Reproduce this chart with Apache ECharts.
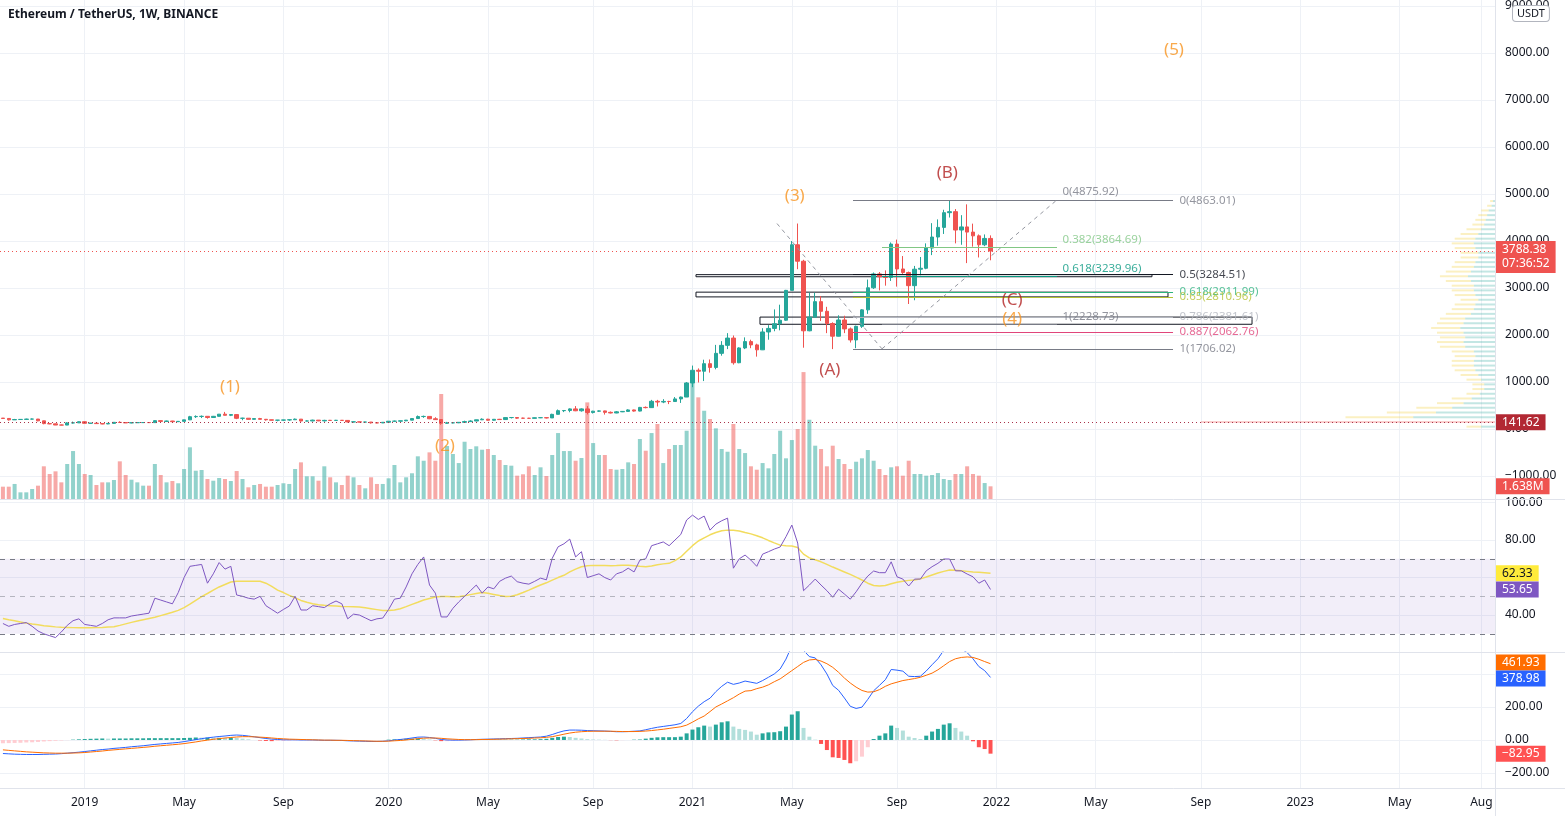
<!DOCTYPE html>
<html><head><meta charset="utf-8">
<script src="https://cdn.jsdelivr.net/npm/echarts@6/dist/echarts.min.js"></script>
<style>html,body{margin:0;padding:0;background:#fff}#c{width:1565px;height:816px}</style>
</head><body><div id="c"></div>
<script>
// ---------------- DATA (weekly, first bar = week of 2018-10-01) ----------------
// [open, close, low, high]
const ohlc = [
[232,225,214,234],[225,195,180,232],[195,202,194,215],[202,205,196,209],[205,211,194,220],[211,212,206,223],[212,174,165,214],[174,115,101,177],[115,110,102,128],[110,85,84,116],
[85,84,82,93],[84,130,83,145],[130,131,116,158],[131,155,130,161],[155,122,120,160],[122,124,117,129],[124,115,110,125],[115,108,102,118],[108,120,104,126],[120,142,117,145],
[142,138,130,165],[138,130,128,143],[130,135,123,140],[135,136,130,138],[136,138,132,142],[138,136,130,145],[136,178,135,185],[178,162,157,184],[162,170,160,178],[170,156,150,174],
[156,163,153,167],[163,195,159,197],[195,262,190,280],[262,267,236,290],[267,270,233,288],[270,245,220,272],[245,270,240,278],[270,316,265,318],[316,292,290,364],[292,307,275,317],
[307,228,210,317],[228,230,187,240],[230,206,201,232],[206,222,202,227],[222,207,205,237],[207,196,178,213],[196,187,183,198],[187,189,164,192],[189,193,170,196],[193,197,176,199],
[197,210,195,223],[210,170,156,212],[170,171,166,183],[171,189,164,198],[189,173,167,190],[173,184,158,196],[184,183,176,193],[183,185,181,194],[185,183,178,190],[183,151,140,185],
[151,152,139,157],[152,147,143,153],[147,148,140,152],[148,132,116,149],[132,130,124,134],[130,143,126,146],[143,166,135,170],[166,167,157,180],[167,175,154,176],[175,189,166,190],
[189,223,187,227],[223,265,220,288],[265,268,238,285],[268,218,210,273],[218,200,195,251],[200,123,90,203],[123,131,109,152],[131,133,120,140],[133,142,125,147],[142,158,140,177],
[158,170,150,187],[170,196,167,198],[196,209,190,227],[209,187,180,217],[187,207,178,208],[207,201,195,215],[201,243,197,245],[243,245,225,253],[245,231,215,249],[231,229,220,241],
[229,227,216,238],[227,240,223,246],[240,242,232,250],[242,236,225,245],[236,312,236,325],[312,390,310,415],[390,394,360,400],[394,428,356,440],[428,388,380,488],[388,428,370,440],
[428,352,310,488],[352,380,330,387],[380,385,363,395],[385,355,307,390],[355,341,332,373],[341,366,336,383],[366,375,360,383],[375,406,369,420],[406,382,370,413],[382,460,375,470],
[460,455,440,480],[455,590,450,620],[590,574,480,620],[574,587,550,635],[587,585,530,600],[585,640,580,680],[640,680,555,690],[680,980,680,1000],[980,1250,890,1350],[1250,1230,990,1290],
[1230,1390,1020,1475],[1390,1310,1200,1480],[1310,1610,1270,1790],[1610,1780,1560,1870],[1780,1935,1700,2040],[1935,1410,1370,1990],[1410,1725,1400,1740],[1725,1860,1700,1950],[1860,1790,1720,1900],[1790,1685,1540,1815],
[1685,2065,1680,2145],[2065,2140,1900,2210],[2140,2240,2080,2545],[2240,2315,2100,2645],[2315,2950,2300,2960],[2950,3920,2950,4000],[3920,3570,3400,4372],[3570,2090,1730,3600],[2090,2380,2080,2900],[2380,2710,2380,2900],
[2710,2505,2300,2830],[2505,2245,2040,2600],[2245,1975,1700,2270],[1975,2320,1970,2420],[2320,2130,2040,2410],[2130,1895,1840,2160],[1895,2185,1720,2200],[2185,2535,2150,2550],[2535,3005,2450,3180],[3005,3300,2980,3330],
[3300,3240,2950,3340],[3240,3225,3050,3375],[3225,3935,3150,3970],[3935,3405,3030,4030],[3405,3330,3300,3680],[3330,3050,2660,3350],[3050,3400,2740,3470],[3400,3420,3270,3660],[3420,3850,3400,3950],[3850,4085,3700,4380],
[4085,4290,3900,4460],[4290,4603,4150,4665],[4603,4625,4500,4868],[4625,4234,3950,4680],[4234,4300,3920,4550],[4300,4190,3530,4780],[4190,4110,3880,4370],[4110,3920,3650,4140],[3920,4055,3890,4140],[4055,3788.38,3590,4120]
];
// weekly volume, millions of ETH
const volumeM = [
1.59,1.59,1.94,0.86,0.86,1.29,1.72,4.22,3.23,3.57,
2.15,4.52,6.19,4.52,3.23,3.10,1.81,2.15,2.15,2.45,
4.86,3.10,2.49,2.15,1.72,1.72,4.52,3.10,2.15,2.32,
2.03,3.87,6.67,3.65,3.74,2.58,2.36,2.71,2.58,2.32,
3.61,2.58,1.51,1.81,1.94,1.59,1.59,1.81,2.03,1.94,
3.87,4.73,2.93,2.93,2.36,4.22,2.80,2.15,1.81,3.01,
2.80,1.81,1.38,2.80,1.94,1.94,2.67,4.39,2.15,2.80,
3.32,5.51,4.94,6.02,4.94,13.55,6.84,5.81,4.64,7.39,
6.45,6.80,6.36,6.45,5.68,5.03,4.39,4.30,3.01,3.19,
4.22,3.10,4.09,2.97,5.68,8.51,6.19,6.19,4.94,5.29,
12.47,7.22,5.68,5.68,3.87,3.78,3.87,4.73,4.52,7.74,
6.23,8.51,9.68,4.64,6.45,6.97,6.97,8.81,15.48,13.12,
11.39,10.32,9.12,6.45,6.10,9.68,6.45,5.93,4.22,3.78,
4.64,3.96,5.81,8.81,5.25,7.61,9.03,16.38,10.23,6.88,
6.45,4.22,6.88,5.16,4.52,3.87,4.81,5.25,6.32,4.94,
3.87,3.10,4.09,4.22,3.01,4.94,3.23,3.23,3.01,3.10,
3.35,2.58,2.45,3.23,3.23,4.22,3.23,3.01,2.06,1.638
];
const rsi = [
35.5,34,35,35.5,36,34,31.5,30,29,28, 31,34.5,37,38,35,34.5,34,35.5,37.5,38.5,
38.5,38.5,39.5,40,40.5,41,49,48,47,46, 52,60,66,66.5,67,57,62,68,64.5,66,
50.7,50,49,48.5,50,45,43,41,43,44.8, 50,42.7,42.7,45,44.5,44,46,47.5,46,38,
40.5,40,38.5,37,38,38.4,43,48.5,49,55, 62,67,71,56,51.7,39,39,43.6,47,50,
53,56,51.7,55,54,58,59.7,60.8,57.8,57, 56.5,58,59.7,58.8,70.3,76.4,78,80.5,71,73.8,
60,61,62,60,58.7,62,63,65,63,69.3, 70,77,78,79,77,80,83,90.7,93.3,91,
92.8,85.3,88.5,90.3,91.7,65,70,72,69.3,66, 72.5,73.8,75.2,76.3,81.8,88,78.4,53,56,59.2,
56,53,49.5,53.8,51.2,48.5,52.4,57,60.8,63.5, 62.6,62.6,68.4,60.4,59.2,55.5,59.2,59.2,63.6,65.8,
67.6,69.9,69.9,63.6,63.6,61.9,60.4,57,58.7,53.65
];
const rsiMA = [
38.2,37.5,37,36.3,35.7,35.2,34.8,34.3,34,33.7, 33.5,33.4,33.3,33.2,33.2,33.2,33.3,33.4,33.6,33.8,
34.5,35.3,36.1,36.8,37.5,38.2,38.8,39.7,40.6,41.5, 42.5,44,45.8,47.8,49.8,51.5,53.3,55,56.3,57.6,
58,58.1,58.1,58.1,58,57,55.3,53.3,52,50.5, 49.2,47.8,46.8,46,45.5,45.2,45,44.8,44.6,44.5,
44.4,44.3,43.9,43.4,42.9,42.4,42.4,42.7,43.4,44.5, 45.7,46.8,48,48.8,49.6,49.9,49.9,49.8,49.8,50.3,
50.9,51.5,52,51.6,51,50.4,49.9,50,50.8,52, 53.3,54.7,56,57.2,58.6,60,61.2,63,64.5,65.8,
66.3,66.5,66.5,66.4,66.3,66.4,66.6,66.6,66.3,66, 65.8,66.2,66.8,67.3,67.6,69,71,74,77,79.5,
81.2,82.8,84,85,85.3,85.2,84.8,84,83.3,82.3, 81.2,79.8,78.5,77.3,77,76.8,76,72.5,70.5,69.5,
68.4,67,65.6,64.3,63,61.7,60.2,58.7,57,55.8, 55.5,55.8,56.7,57.5,58,58.5,58.7,59.3,60.3,61.4,
62.4,63.3,64,63.9,63.6,63.3,63,62.8,62.6,62.33
];
const macdLine = [
-82,-84,-86,-87,-88,-88,-88,-87,-86,-85, -83,-80,-77,-74,-70,-66,-62,-58,-55,-51,
-48,-45,-41,-38,-35,-31,-27,-24,-21,-18, -15,-10,-4,2,8,13,17,21,24,28,
30,28,24,19,14,9,5,3,1,1, 1,0,0,0,-1,-2,-2,-2,-3,-5,
-6,-7,-8,-9,-9,-8,-5,-1,3,7, 12,17,18,15,10,3,0,-1,-1,0,
1,3,4,5,6,7,8,9,10,12, 14,16,18,23,33,45,55,60,60,59,
57,56,55,54,52,50,50,51,53,55, 62,70,77,82,87,92,100,130,171,205,
232,253,293,325,350,337,345,357,350,343, 360,380,400,430,490,570,610,543,505,497,
455,400,330,301,254,204,191,199,246,298, 331,365,427,423,417,386,384,386,418,456,
492,543,576,565,551,529,492,445,420,378.98
];
const signalLine = [
-60,-63,-66,-69,-72,-74,-76,-78,-79,-80, -80,-80,-79,-78,-76,-73,-70,-67,-63,-60,
-57,-54,-51,-48,-45,-42,-38,-35,-32,-29, -26,-22,-17,-12,-6,-1,4,8,12,15,
18,20,20,19,17,15,12,9,7,5, 4,3,2,1,0,-1,-1,-2,-2,-3,
-4,-5,-6,-7,-8,-8,-7,-5,-3,0, 4,8,11,12,12,10,7,5,3,2,
2,2,3,3,4,5,6,7,8,9, 10,12,13,16,20,27,35,42,47,50,
52,53,53,53,53,52,51,51,51,52, 54,57,61,65,70,75,80,90,108,128,
145,172,200,218,237,256,278,296,299,311, 320,334,353,370,395,420,445,470,485,488,
478,462,440,410,375,345,320,300,290,292, 305,325,340,350,360,366,372,380,392,405,
425,450,475,492,500,503,500,489,475,461.93
];
const macdHist = [
-20,-19,-18,-17,-15,-14,-12,-9,-7,-5, -3,-1,2,4,6,7,8,9,8,9,
9,9,10,10,10,11,11,11,11,11, 11,12,13,15,14,14,13,13,12,13,
12,8,4,0,-3,-6,-7,-6,-6,-4, -3,-3,-2,-1,-1,-1,-1,0,-1,-2,
-2,-2,-2,-2,-1,0,2,4,6,7, 8,9,7,3,-2,-7,-7,-6,-4,-2,
-1,1,1,2,2,2,2,2,2,3, 4,4,5,7,13,18,20,18,13,9,
5,3,2,1,-1,-2,-1,0,2,3, 8,13,16,17,17,17,20,40,63,77,
87,81,93,107,113,81,67,61,51,32, 40,46,47,53,81,154,174,73,20,2,
-24,-61,-105,-109,-121,-141,-129,-101,-44,6, 26,40,87,73,57,20,12,6,26,51,
67,93,101,73,51,26,-8,-44,-55,-82.95
];
// visible-range volume profile (estimated): [price from, price to, relative total volume, up share]
const volumeProfile = [
[0,100,10,0.5],[100,200,100,0.45],[200,300,51,0.55],[300,400,37,0.55],[400,500,27,0.55],
[500,600,20,0.55],[600,700,15,0.55],[700,800,10,0.55],[800,900,8,0.5],[900,1000,8,0.5],
[1000,1100,10,0.5],[1100,1200,12,0.5],[1200,1300,14,0.5],[1300,1400,15,0.5],[1400,1500,15,0.5],
[1500,1600,14,0.5],[1600,1700,15,0.5],[1700,1800,19,0.55],[1800,1900,20,0.55],[1900,2000,19,0.55],
[2000,2100,20,0.55],[2100,2200,22,0.55],[2200,2300,20,0.55],[2300,2400,19,0.55],[2400,2500,17,0.5],
[2500,2600,15,0.5],[2600,2700,14,0.5],[2700,2800,12,0.5],[2800,2900,14,0.5],[2900,3000,15,0.5],
[3000,3100,15,0.5],[3100,3200,17,0.5],[3200,3300,19,0.5],[3300,3400,17,0.5],[3400,3500,15,0.5],
[3500,3600,14,0.5],[3600,3700,12,0.5],[3700,3800,12,0.5],[3800,3900,14,0.5],[3900,4000,15,0.5],
[4000,4100,14,0.5],[4100,4200,12,0.5],[4200,4300,10,0.5],[4300,4400,8,0.5],[4400,4500,7,0.5],
[4500,4600,6,0.5],[4600,4700,5,0.5],[4700,4800,3,0.5],[4800,4900,2,0.5]
];
// time-axis tick labels
const xTickLabels = [
['2019-01-07','2019'],['2019-05-06','May'],['2019-09-02','Sep'],
['2020-01-06','2020'],['2020-05-04','May'],['2020-09-07','Sep'],
['2021-01-04','2021'],['2021-05-03','May'],['2021-09-06','Sep'],
['2022-01-03','2022'],['2022-05-02','May'],['2022-09-05','Sep'],
['2023-01-02','2023'],['2023-05-01','May'],['2023-08-07','Aug']
];
const priceTicks = [-1000,0,1000,2000,3000,4000,5000,6000,7000,8000,9000];
const rsiTickLabels = [40,80,100];
const rsiGrid = [40,60,80,100];
const macdTickLabels = [-200,0,200];
const macdGrid = [-200,0,200,400];
const hLineLevel = 141.62;
const countdown = '07:36:52';
// drawings: anchors are [week index from 2018-10-01, price]
const fibA = {from:150.43, to:180.38, levels:[['0',4875.92,'#787B86'],['0.382',3864.69,'#81C784'],['0.618',3239.96,'#089981'],['1',2228.73,'#787B86']]};
const fibB = {from:145.47, to:200.23, levels:[['0',4863.01,'#787B86'],['0.5',3284.51,'#131722'],['0.618',2911.99,'#2DB37D'],['0.65',2810.96,'#B5C234'],['0.786',2381.61,'#B2B5BE'],['0.887',2062.76,'#E0457B'],['1',1706.02,'#787B86']]};
const zones = [[118.6,3284.51,196.63,3239.96],[118.6,2911.99,199.37,2810.96],[129.55,2381.61,213.75,2228.73]];
const dashedPath = [[132.46,4372],[150.43,1706.02],[180.38,4875.92]];
const waveLabels = [['(1)',38.86,894],['(2)',75.65,-362],['(3)',135.5,4957],['(4)',172.7,2340],['(5)',200.4,8064]];
const corrLabels = [['(A)',141.5,1255],['(B)',161.6,5447],['(C)',172.7,2745]];

// ---------------- CHART ----------------
const FONT = '"Noto Sans", Roboto, sans-serif';
const START = Date.UTC(2018,9,1), WEEK = 7*86400000, N_WEEKS = 256;
const categories = [];
for (let i=0;i<N_WEEKS;i++) categories.push(new Date(START+i*WEEK).toISOString().slice(0,10));
const tickMap = {}; xTickLabels.forEach(([d,t])=>{tickMap[d]=t;});
const isTick = (idx, val) => tickMap[categories[idx]] !== undefined;
const fmt = v => (v<0?'\u2212':'') + Math.abs(v).toFixed(2);
const GRID_C = '#EEF1F6', TXT = '#131722';

const xAx = (g, lbl) => ({
  type:'category', gridIndex:g, data:categories, boundaryGap:true,
  axisLine:{show:false}, axisTick:{show:false},
  axisLabel: lbl ? {show:true, interval:isTick, formatter:v=>tickMap[v]||'', color:TXT, fontSize:12, fontFamily:FONT, margin:9} : {show:false},
  splitLine:{show:true, interval:isTick, alignWithLabel:true, lineStyle:{color:GRID_C}}
});
const yAx = (g, min, max, labels, grids) => ({
  type:'value', gridIndex:g, position:'right', min, max,
  axisLine:{show:false}, axisTick:{show:false, customValues:grids},
  axisLabel:{customValues:labels, formatter:fmt, color:TXT, fontSize:12, fontFamily:FONT, margin:9},
  splitLine:{show:true, lineStyle:{color:GRID_C}}
});

const up = i => ohlc[i][1] >= ohlc[i][0];
const volData = volumeM.map((v,i)=>({value:v, itemStyle:{color: up(i)?'rgba(38,166,154,0.5)':'rgba(239,83,80,0.5)'}}));
const histData = macdHist.map((h,i)=>{
  const p = i>0 ? macdHist[i-1] : h;
  const c = h>=0 ? (h>=p?'#26A69A':'#B2DFDB') : (h<p?'#FF5252':'#FFCDD2');
  return {value:h, itemStyle:{color:c}};
});
const pocTotal = Math.max(...volumeProfile.map(r=>r[2]));
const profileData = volumeProfile.map(r=>[r[0], r[1], r[2]*r[3], r[2]*(1-r[3]), r[2]===pocTotal?1:0]);

// annotation points/lines
const annPoints = [];
waveLabels.forEach(([t,x,y])=>annPoints.push({value:[x,y], label:{show:true, position:'inside', formatter:t, color:'#F7931E', fontSize:17, fontFamily:FONT}}));
corrLabels.forEach(([t,x,y])=>annPoints.push({value:[x,y], label:{show:true, position:'inside', formatter:t, color:'#B22222', fontSize:17, fontFamily:FONT}}));
const fibLines = [];
[[fibA,[0,-8],5],[fibB,[0,0],6]].forEach(([f,off,dist])=>{
  f.levels.forEach(([lv,p,c])=>{
    fibLines.push([{coord:[f.from,p], lineStyle:{color:c, width:1, type:'solid'}},{coord:[f.to,p]}]);
    annPoints.push({value:[f.to,p], label:{show:true, position:'right', distance:dist, offset:off, formatter:lv+'('+p.toFixed(2)+')', color:c, fontSize:11.5, fontFamily:FONT}});
  });
});
for (let k=0;k<dashedPath.length-1;k++){
  fibLines.push([{coord:dashedPath[k], lineStyle:{color:'#9598A1', width:1, type:[4,4]}},{coord:dashedPath[k+1]}]);
}
const zoneAreas = zones.map(([x1,y1,x2,y2])=>[{coord:[x1,y1], itemStyle:{color:'rgba(255,255,255,0)', borderColor:'#131722', borderWidth:1}},{coord:[x2,y2]}]);

const option = {
  animation:false,
  backgroundColor:'#ffffff',
  title:{text:'Ethereum / TetherUS, 1W, BINANCE', left:8, top:9, padding:0, textStyle:{fontSize:12, fontWeight:'bold', color:TXT, fontFamily:FONT}},
  grid:[
    {left:0, right:69, top:0, height:499, containLabel:false, outerBoundsMode:'none'},
    {left:0, right:69, top:499, height:153, containLabel:false, outerBoundsMode:'none'},
    {left:0, right:69, top:652, height:136, containLabel:false, outerBoundsMode:'none'}
  ],
  xAxis:[xAx(0,false), xAx(1,false), xAx(2,true),
    {type:'value', gridIndex:0, min:-0.5, max:N_WEEKS-0.5, show:false},
    {type:'value', gridIndex:0, min:0, max:507, inverse:true, show:false}],
  yAxis:[
    yAx(0,-1489,9128,priceTicks,priceTicks),
    {type:'value', gridIndex:0, min:0, max:64.4, show:false},
    yAx(1,20.3,101.9,rsiTickLabels,rsiGrid),
    yAx(2,-291,533,macdTickLabels,macdGrid)
  ],
  series:[
    {type:'custom', name:'Volume profile', xAxisIndex:4, yAxisIndex:0, data:profileData, z:0, silent:true, clip:true,
      encode:{x:[2,3], y:[0,1]},
      renderItem:(params, api)=>{
        const p0=api.value(0), p1=api.value(1), u=api.value(2), d=api.value(3), poc=api.value(4);
        const yc=(api.coord([0,p0])[1]+api.coord([0,p1])[1])/2;
        const xR=api.coord([0,p0])[0], xU=api.coord([u,p0])[0], xD=api.coord([u+d,p0])[0];
        const h=2;
        return {type:'group', children:[
          {type:'rect', shape:{x:xU, y:yc-h/2, width:xR-xU, height:h}, style:{fill: poc?'rgba(239,83,80,0.28)':'rgba(38,166,154,0.28)'}},
          {type:'rect', shape:{x:xD, y:yc-h/2, width:xU-xD, height:h}, style:{fill: poc?'rgba(239,83,80,0.28)':'rgba(242,208,64,0.32)'}}
        ]};
      }},
    {type:'bar', name:'Volume', xAxisIndex:0, yAxisIndex:1, data:volData, barWidth:4, z:1, silent:true},
    {type:'candlestick', name:'ETHUSDT', xAxisIndex:0, yAxisIndex:0, data:ohlc, barWidth:4, z:3, silent:true,
      itemStyle:{color:'#26A69A', color0:'#EF5350', borderColor:'#26A69A', borderColor0:'#EF5350', borderWidth:1},
      markLine:{silent:true, symbol:['none','none'], label:{show:false},
        data:[{yAxis:ohlc[ohlc.length-1][1], lineStyle:{color:'#EF5350', type:[1,3], width:1}},
              {yAxis:hLineLevel, lineStyle:{color:'#A8324A', type:[1,3], width:1}}]}},
    {type:'scatter', name:'drawings', xAxisIndex:3, yAxisIndex:0, data:annPoints, symbol:'circle', symbolSize:1,
      itemStyle:{color:'rgba(0,0,0,0)'}, z:6, silent:true,
      markLine:{silent:true, symbol:['none','none'], label:{show:false}, data:fibLines},
      markArea:{silent:true, data:zoneAreas}},
    {type:'line', name:'RSI', xAxisIndex:1, yAxisIndex:2, data:rsi, symbol:'none', lineStyle:{color:'#7E57C2', width:1}, z:4, silent:true,
      markArea:{silent:true, itemStyle:{color:'rgba(126,87,194,0.1)'}, data:[[{yAxis:30},{yAxis:70}]]},
      markLine:{silent:true, symbol:['none','none'], label:{show:false},
        data:[{yAxis:70, lineStyle:{color:'#787B86', type:[5,5], width:1}},
              {yAxis:50, lineStyle:{color:'rgba(120,123,134,0.5)', type:[5,5], width:1}},
              {yAxis:30, lineStyle:{color:'#787B86', type:[5,5], width:1}}]}},
    {type:'line', name:'RSI MA', xAxisIndex:1, yAxisIndex:2, data:rsiMA, symbol:'none', lineStyle:{color:'#F2DC5D', width:1.5}, z:3, silent:true},
    {type:'bar', name:'Histogram', xAxisIndex:2, yAxisIndex:3, data:histData, barWidth:4, z:2, silent:true},
    {type:'line', name:'MACD', xAxisIndex:2, yAxisIndex:3, data:macdLine, symbol:'none', lineStyle:{color:'#2962FF', width:1}, z:4, silent:true},
    {type:'line', name:'Signal', xAxisIndex:2, yAxisIndex:3, data:signalLine, symbol:'none', lineStyle:{color:'#FF6D00', width:1}, z:4, silent:true}
  ]
};

const chart = echarts.init(document.getElementById('c'), null, {renderer:'canvas', width:1565, height:816});
chart.setOption(option);

// right-scale value badges (positions from the library's own axes)
const last = a => a[a.length-1];
const badges = [
  {ax:0, v:last(ohlc)[1], t:last(ohlc)[1].toFixed(2)+'\n'+countdown, bg:'#EF5350', fg:'#fff', two:true},
  {ax:0, v:hLineLevel, t:hLineLevel.toFixed(2), bg:'#B22833', fg:'#fff'},
  {ax:1, v:last(volumeM), t:last(volumeM).toFixed(3)+'M', bg:'#EF5350', fg:'#fff'},
  {ax:2, v:last(rsiMA), t:fmt(last(rsiMA)), bg:'#FFEB3B', fg:TXT},
  {ax:2, v:last(rsi), t:fmt(last(rsi)), bg:'#7E57C2', fg:'#fff'},
  {ax:3, v:last(signalLine), t:fmt(last(signalLine)), bg:'#FF6D00', fg:'#fff'},
  {ax:3, v:last(macdLine), t:fmt(last(macdLine)), bg:'#2962FF', fg:'#fff'},
  {ax:3, v:last(macdHist), t:fmt(last(macdHist)), bg:'#FF5252', fg:'#fff'}
];
badges.forEach(b=>{ b.y = chart.convertToPixel({yAxisIndex:b.ax}, b.v); });
for (let k=1;k<badges.length;k++){
  const a = badges[k-1], b = badges[k];
  if (a.ax===b.ax && !a.two && Math.abs(b.y-a.y)<16){
    const mid=(a.y+b.y)/2, s = b.y>=a.y?1:-1;
    a.y = mid - 8*s; b.y = mid + 8*s;
  }
}
const graphics = [];
const sep = (x1,y1,x2,y2)=>graphics.push({type:'line', shape:{x1,y1,x2,y2}, style:{stroke:'#E0E3EB', lineWidth:1}, z:50, silent:true});
sep(0,499.5,1565,499.5); sep(0,652.5,1565,652.5); sep(0,788.5,1565,788.5); sep(1495.5,0,1495.5,816);
badges.forEach(b=>{
  graphics.push({type:'text', x:1496, y: b.two ? b.y-10 : b.y, z:100, silent:true,
    style:{text:b.t, fill:b.fg, font:'12px '+FONT, backgroundColor:b.bg, padding:[2,6,2,6],
      lineHeight:b.two?14:12, verticalAlign: b.two?'top':'middle', align:'left'}});
});
graphics.push({type:'text', x:1513, y:6, z:100, silent:true,
  style:{text:'USDT', fill:TXT, font:'11px '+FONT, backgroundColor:'#fff', borderColor:'#B2B5BE', borderWidth:1, borderRadius:3, padding:[2,4,2,4]}});
chart.setOption({graphic:graphics});
</script>
</body></html>
